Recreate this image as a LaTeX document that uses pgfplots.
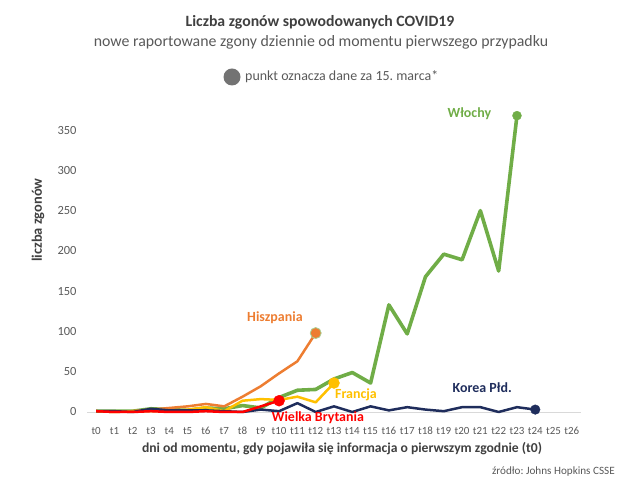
\documentclass[border=0pt]{standalone}
\usepackage{pgfplots}
\pgfplotsset{compat=1.18}
\usepackage{fontspec}
\setmainfont{Carlito}
\frenchspacing
\definecolor{cit}{HTML}{70AD47}
\definecolor{ces}{HTML}{ED7D31}
\definecolor{cfr}{HTML}{FFC000}
\definecolor{cuk}{HTML}{FF0000}
\definecolor{ckr}{HTML}{1F2D5C}
\definecolor{txt}{HTML}{595959}
\definecolor{ttl}{HTML}{404040}
\begin{document}
\begin{tikzpicture}[x=1bp,y=1bp]
\path[use as bounding box] (0,0) rectangle (640,487);
\begin{axis}[
  at={(87bp,75bp)}, anchor=south west,
  scale only axis, width=494bp, height=302bp,
  xmin=-0.5, xmax=26.5, ymin=0, ymax=375,
  clip=false,
  axis line style={draw=none},
  axis x line*=bottom, axis y line*=left,
  xtick={0,...,26},
  xticklabels={t0,t1,t2,t3,t4,t5,t6,t7,t8,t9,t10,t11,t12,t13,t14,t15,t16,t17,t18,t19,t20,t21,t22,t23,t24,t25,t26},
  ytick={0,50,...,350},
  major tick length=0pt,
  /pgf/number format/assume math mode=true,
  xticklabel style={font=\fontsize{11}{12}\selectfont, text=txt, anchor=base, yshift=-23bp},
  yticklabel style={font=\fontsize{12.5}{14}\selectfont, text=txt, xshift=-7bp},
]
\draw[color=black!15, line width=0.8bp] (axis cs:-0.5,0) -- (axis cs:26.5,0);
% Italy
\addplot[cit, line width=3.6bp, line join=round] coordinates {
(0,1)(1,1)(2,1)(3,4)(4,3)(5,2)(6,5)(7,4)(8,8)(9,5)(10,18)(11,27)(12,28)(13,41)(14,49)(15,36)(16,133)(17,97)(18,168)(19,196)(20,189)(21,250)(22,175)(23,368)};
% Spain
\addplot[ces, line width=2.5bp, line join=round] coordinates {
(0,1)(1,0)(2,1)(3,3)(4,5)(5,7)(6,10)(7,7)(8,19)(9,32)(10,48)(11,63)(12,98)};
% France
\addplot[cfr, line width=2.5bp, line join=round] coordinates {
(0,1)(1,0)(2,1)(3,1)(4,1)(5,3)(6,6)(7,1)(8,14)(9,16)(10,15)(11,19)(12,12)(13,36)};
% Korea
\addplot[ckr, line width=2.5bp, line join=round] coordinates {
(0,1)(1,1)(2,0)(3,4)(4,2)(5,2)(6,2)(7,1)(8,0)(9,3)(10,1)(11,11)(12,0)(13,7)(14,0)(15,7)(16,2)(17,6)(18,3)(19,1)(20,6)(21,6)(22,0)(23,6)(24,3)};
% UK
\addplot[cuk, line width=2.5bp, line join=round] coordinates {
(0,1)(1,0)(2,0)(3,1)(4,0)(5,0)(6,1)(7,0)(8,0)(9,7)(10,14)};
% end markers
\addplot[only marks, mark=*, mark size=4.5bp, mark options={fill=cit, draw=cit}] coordinates {(23,368)};
\addplot[only marks, mark=*, mark size=5.5bp, mark options={fill=ces, draw=cit!60, line width=0.8bp}] coordinates {(12,98)};
\addplot[only marks, mark=*, mark size=5.5bp, mark options={fill=cfr, draw=cfr}] coordinates {(13,36)};
\addplot[only marks, mark=*, mark size=5.5bp, mark options={fill=cuk, draw=cuk}] coordinates {(10,14)};
\addplot[only marks, mark=*, mark size=4.8bp, mark options={fill=ckr, draw=ckr}] coordinates {(24,3)};
% series labels
\node[font=\bfseries\fontsize{14}{15}\selectfont, text=cit] at (axis cs:20.4,371) {Włochy};
\node[font=\bfseries\fontsize{14}{15}\selectfont, text=ces] at (axis cs:9.77,117) {Hiszpania};
\node[font=\bfseries\fontsize{14}{15}\selectfont, text=cfr] at (axis cs:14.2,21) {Francja};
\node[font=\bfseries\fontsize{14}{15}\selectfont, text=cuk] at (axis cs:12.12,-7.4) {Wielka Brytania};
\node[font=\bfseries\fontsize{14}{15}\selectfont, text=ckr] at (axis cs:21.1,30) {Korea Płd.};
\end{axis}
% titles
\node[font=\bfseries\fontsize{15.8}{18}\selectfont, text=ttl] at (320,465) {Liczba zgonów spowodowanych COVID19};
\node[font=\fontsize{15.9}{18}\selectfont, text=txt] at (321,445) {nowe raportowane zgony dziennie od momentu pierwszego przypadku};
\fill[black!55] (232,410) circle (8.5);
\node[anchor=west, font=\fontsize{14}{16}\selectfont, text=txt, inner sep=0] at (245,410) {punkt oznacza dane za 15. marca*};
\node[rotate=90, font=\bfseries\fontsize{14.5}{16}\selectfont, text=ttl] at (38,267) {liczba zgonów};
\node[font=\bfseries\fontsize{13.7}{15}\selectfont, text=ttl] at (342,38) {dni od momentu, gdy pojawiła się informacja o pierwszym zgodnie (t0)};
\node[anchor=east, font=\fontsize{11.2}{13}\selectfont, text=txt, inner sep=0] at (615,15) {źródło: Johns Hopkins CSSE};
\end{tikzpicture}
\end{document}
